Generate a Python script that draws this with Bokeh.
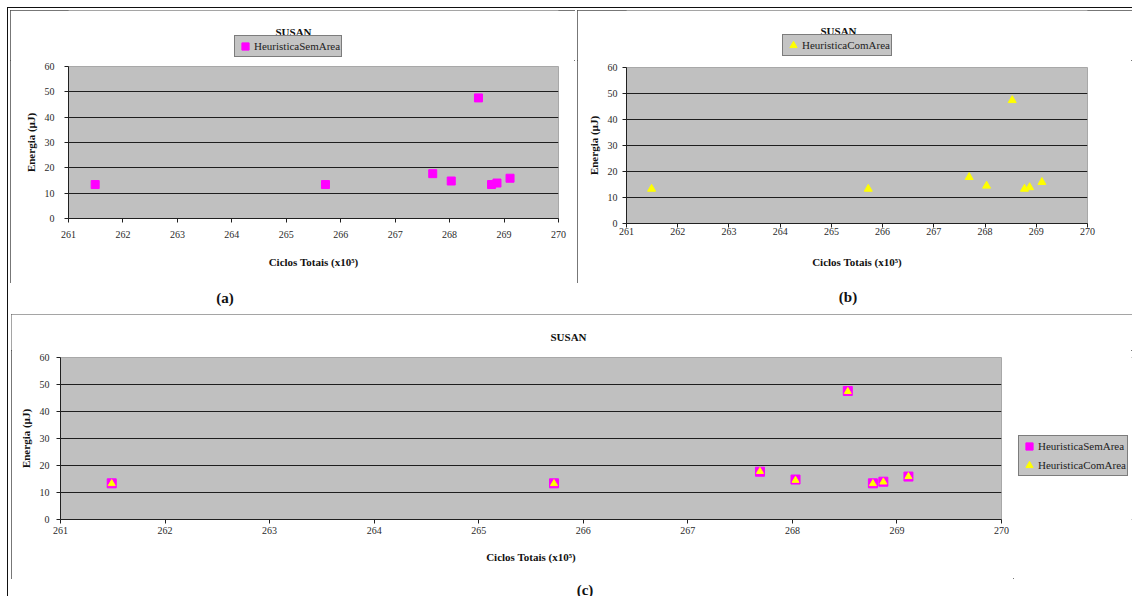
from bokeh.plotting import figure
from bokeh.models import Range1d, FixedTicker, Legend, LegendItem, Label, Div
from bokeh.layouts import column, row
from bokeh.embed import file_html
from bokeh.resources import INLINE

# ---- data ----
ciclos = [261.49, 265.72, 267.69, 268.03, 268.53, 268.77, 268.87, 269.11]
energia_sem_area = [13.4, 13.4, 17.7, 14.8, 47.6, 13.4, 14.0, 15.9]
energia_com_area = [13.3, 13.3, 17.8, 14.5, 47.4, 13.3, 13.9, 15.9]
x_ticks = [261, 262, 263, 264, 265, 266, 267, 268, 269, 270]
y_ticks = [0, 10, 20, 30, 40, 50, 60]
grid_ticks = [10, 20, 30, 40, 50]
title_text = "SUSAN"
x_label = "Ciclos Totais (x10\u2075)"
y_label = "Energia (\u00b5J)"
name_sem = "HeuristicaSemArea"
name_com = "HeuristicaComArea"
captions = ["(a)", "(b)", "(c)"]

SERIF = "Liberation Serif"
MAGENTA = "#ff00ff"
YELLOW = "#ffff00"
FRAME = {"outline": "1px solid #4a4a4a", "outline-offset": "-1px"}


def make_fig(w, h, left, right, top, bottom, xls, xas, yls, yas):
    p = figure(width=w, height=h, x_range=Range1d(261, 270), y_range=Range1d(0, 60),
               output_backend="svg", toolbar_location=None,
               min_border_left=left, min_border_right=right,
               min_border_top=top, min_border_bottom=bottom)
    p.background_fill_color = "#c0c0c0"
    p.border_fill_color = "white"
    p.outline_line_color = "#a8a8a8"
    p.xaxis.ticker = FixedTicker(ticks=x_ticks)
    p.yaxis.ticker = FixedTicker(ticks=y_ticks)
    p.xgrid.visible = False
    p.ygrid.ticker = FixedTicker(ticks=grid_ticks)
    p.ygrid.grid_line_color = "#1e1e1e"
    p.ygrid.grid_line_width = 1
    for ax in (p.xaxis[0], p.yaxis[0]):
        ax.axis_line_color = "#202020"
        ax.major_tick_line_color = "#202020"
        ax.major_tick_out = 4
        ax.major_tick_in = 0
        ax.minor_tick_out = 0
        ax.minor_tick_in = 0
        ax.major_label_text_font = SERIF
        ax.major_label_text_font_size = "10px"
        ax.major_label_text_color = "#2a2a2a"
        ax.axis_label_text_font = SERIF
        ax.axis_label_text_font_size = "11px"
        ax.axis_label_text_font_style = "bold"
        ax.axis_label_text_color = "#111111"
    p.xaxis.axis_label = x_label
    p.yaxis.axis_label = y_label
    p.xaxis.major_label_standoff = xls
    p.xaxis.axis_label_standoff = xas
    p.yaxis.major_label_standoff = yls
    p.yaxis.axis_label_standoff = yas
    return p


def blank(w, h, xw, yh):
    # xw/yh: extent of the frame in pixels, so that data units equal pixels
    f = figure(width=w, height=h, x_range=Range1d(0, xw), y_range=Range1d(0, yh),
               x_axis_type=None, y_axis_type=None,
               output_backend="svg", toolbar_location=None,
               min_border_left=0, min_border_right=0, min_border_top=0, min_border_bottom=0)
    f.grid.visible = False
    f.outline_line_color = None
    f.background_fill_color = "white"
    f.border_fill_color = "white"
    return f


def legend_key(f, ys, marker, color):
    # hidden copy of the series, only used to draw the legend key
    return f.scatter(ciclos, ys, marker=marker, size=8, fill_color=color,
                     line_color=color, visible=False)


def add_title(f, x, y):
    f.add_layout(Label(x=x, y=y, text=title_text, text_font=SERIF, text_font_size="11px",
                       text_font_style="bold", text_align="center", text_baseline="middle",
                       text_color="#111111"))


def make_legend(items, loc, spacing=0):
    lg = Legend(items=items, location=loc)
    lg.background_fill_color = "#c4c4c4"
    lg.background_fill_alpha = 1
    lg.border_line_color = "#333333"
    lg.border_line_width = 1
    lg.label_text_font = SERIF
    lg.label_text_font_size = "11px"
    lg.label_text_color = "#222222"
    lg.glyph_width = 18
    lg.glyph_height = 18
    lg.label_standoff = 0
    lg.label_height = 16
    lg.padding = 1
    lg.spacing = spacing
    lg.margin = 0
    lg.click_policy = "none"
    return lg


def caption(text, w, h, cx, cy):
    html = (f'<div style="position:absolute;left:{cx - 20}px;top:{cy - 9}px;width:40px;'
            f'text-align:center;line-height:18px;font-family:\'{SERIF}\';font-weight:bold;'
            f'font-size:15px;color:#111">{text}</div>')
    return Div(text=html, width=w, height=h, margin=(0, 0, 0, 0),
               styles={"position": "relative", "overflow": "hidden"})


# ---- (a) ----  box on page: x 10..575, y 10..283; plot frame x 68..558
ha = blank(565, 50, 490, 50)
ka = legend_key(ha, energia_sem_area, "square", MAGENTA)
ha.add_layout(make_legend([LegendItem(label=name_sem, renderers=[ka])], (166, 3)))
add_title(ha, 225, 29)
pa = make_fig(565, 223, 58, 17, 6, 65, 8, 15, 10, 5)
pa.scatter(ciclos, energia_sem_area, marker="square", size=8,
           fill_color=MAGENTA, line_color=MAGENTA)
box_a = column(ha, pa, margin=(10, 2, 2, 10), styles=FRAME)

# ---- (b) ----  box on page: x 577..1132, y 10..283; plot frame x 626..1087
hb = blank(555, 50, 461, 50)
kb = legend_key(hb, energia_com_area, "triangle", YELLOW)
hb.add_layout(make_legend([LegendItem(label=name_com, renderers=[kb])], (156, 4)))
add_title(hb, 212, 30)
pb = make_fig(555, 223, 49, 45, 7, 60, 0, 18, 5, 5)
pb.scatter(ciclos, energia_com_area, marker="triangle", size=8,
           fill_color=YELLOW, line_color=YELLOW)
box_b = column(hb, pb, margin=(10, 0, 2, 0), styles=FRAME)

# ---- (c) ----  box on page: x 11..1132, y 314..579
hc = blank(1121, 36, 1121, 36)
add_title(hc, 557, 14)
pc = make_fig(1002, 229, 49, 12, 7, 60, 3, 14, 7, 5)
pc.scatter(ciclos, energia_sem_area, marker="square", size=9,
           fill_color=MAGENTA, line_color=MAGENTA)
pc.scatter(ciclos, energia_com_area, marker="triangle", size=7,
           fill_color=YELLOW, line_color=YELLOW)
lc = blank(119, 229, 119, 162)
kc1 = legend_key(lc, energia_sem_area, "square", MAGENTA)
kc2 = legend_key(lc, energia_com_area, "triangle", YELLOW)
lc.add_layout(make_legend([LegendItem(label=name_sem, renderers=[kc1]),
                           LegendItem(label=name_com, renderers=[kc2])], (5, 43), spacing=1))
box_c = column(hc, row(pc, lc), margin=(4, 0, 0, 11), styles=FRAME)

cap_a = caption(captions[0], 577, 25, 225, 13)
cap_b = caption(captions[1], 555, 25, 271, 12)
cap_c = caption(captions[2], 1132, 17, 585, 11)

OUTER = {"background": ("linear-gradient(#111,#111) 7px 7px / 1px 100% no-repeat, "
                        "linear-gradient(#111,#111) 7px 7px / 100% 1px no-repeat, white")}
layout = column(row(box_a, box_b), row(cap_a, cap_b), box_c, cap_c, styles=OUTER)
open("out.html", "w").write(file_html(layout, INLINE))
